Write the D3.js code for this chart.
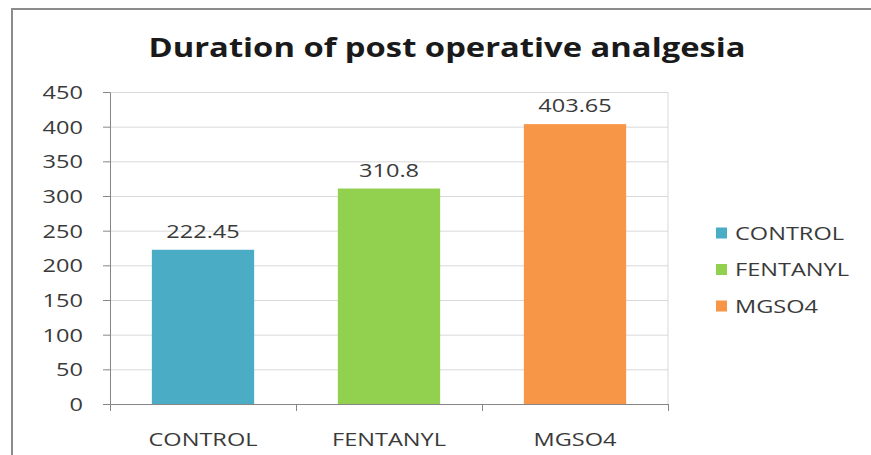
<!DOCTYPE html>
<html>
<head>
<meta charset="utf-8">
<script src="https://cdn.jsdelivr.net/npm/d3@7"></script>
<style>
  html, body { margin: 0; padding: 0; background: #fff; }
  svg { display: block; }
  text { font-family: "Open Sans", sans-serif; }
</style>
</head>
<body>
<svg id="chart" width="871" height="455"></svg>
<script>
// values
const categories = ["CONTROL", "FENTANYL", "MGSO4"];
const durations = [222.45, 310.8, 403.65];
const durationLabels = ["222.45", "310.8", "403.65"];
const barColors = ["#4bacc6", "#92d050", "#f79646"];
const yTicks = [0, 50, 100, 150, 200, 250, 300, 350, 400, 450];

const titleText = "Duration of post operative analgesia";

// the source picture is stretched sideways, text gets the same stretch
const stretch = 1.24;
const textColor = "#3a3a3a";

const svg = d3.select("#chart");
const margin = { left: 110, right: 668, top: 92, bottom: 404 };

const x = d3.scaleBand()
  .domain(categories)
  .range([margin.left, margin.right])
  .paddingInner(0.45)
  .paddingOuter(0.225);

const y = d3.scaleLinear()
  .domain([0, 450])
  .range([margin.bottom, margin.top]);

const color = d3.scaleOrdinal().domain(categories).range(barColors);

// outer frame (only top and left edges are in the crop)
svg.append("path")
  .attr("d", "M12,455 L12,9 L871,9")
  .attr("fill", "none")
  .attr("stroke", "#8c8c8c")
  .attr("stroke-width", 2);

// title
svg.append("text")
  .attr("transform", `translate(447,57) scale(1.26,1)`)
  .attr("text-anchor", "middle")
  .attr("font-size", 26)
  .attr("font-weight", 700)
  .attr("fill", "#1a1a1a")
  .text(titleText);

// gridlines
svg.append("g")
  .attr("transform", `translate(${margin.left},0)`)
  .call(d3.axisLeft(y).tickValues(yTicks).tickSize(-(margin.right - margin.left)).tickFormat(""))
  .call(g => g.select(".domain").remove())
  .call(g => g.selectAll("line").attr("stroke", "#d9d9d9"));

// right edge of plot area
svg.append("line")
  .attr("x1", margin.right).attr("x2", margin.right)
  .attr("y1", margin.top).attr("y2", margin.bottom)
  .attr("stroke", "#d9d9d9");

// bars
svg.append("g")
  .selectAll("rect")
  .data(categories)
  .join("rect")
  .attr("x", d => x(d))
  .attr("width", x.bandwidth())
  .attr("y", (d, i) => y(durations[i]))
  .attr("height", (d, i) => y(0) - y(durations[i]))
  .attr("fill", d => color(d));

// value labels
svg.append("g")
  .selectAll("text")
  .data(categories)
  .join("text")
  .attr("transform", (d, i) => `translate(${x(d) + x.bandwidth() / 2},${y(durations[i]) - 12}) scale(${stretch},1)`)
  .attr("text-anchor", "middle")
  .attr("font-size", 19)
  .attr("fill", textColor)
  .text((d, i) => durationLabels[i]);

// y axis
svg.append("g")
  .attr("transform", `translate(${margin.left},0)`)
  .call(d3.axisLeft(y).tickValues(yTicks).tickSizeInner(7).tickSizeOuter(0).tickPadding(0))
  .call(g => g.select(".domain").attr("stroke", "#868686"))
  .call(g => g.selectAll(".tick line").attr("stroke", "#868686"))
  .call(g => g.selectAll(".tick text")
    .attr("x", 0)
    .attr("dy", "0.35em")
    .attr("transform", `translate(-27,0) scale(${stretch},1)`)
    .attr("font-family", "Open Sans, sans-serif")
    .attr("font-size", 19)
    .attr("fill", textColor));

// x axis: tick marks sit on the category boundaries
const xEdges = d3.scaleLinear().domain([0, categories.length]).range([margin.left, margin.right]);
svg.append("g")
  .attr("transform", `translate(0,${margin.bottom})`)
  .call(d3.axisBottom(xEdges).ticks(categories.length).tickSizeInner(7).tickSizeOuter(0).tickFormat(""))
  .call(g => g.select(".domain").attr("stroke", "#868686"))
  .call(g => g.selectAll(".tick line").attr("stroke", "#868686"));

svg.append("g")
  .attr("transform", `translate(0,${margin.bottom})`)
  .call(d3.axisBottom(x).tickSize(0))
  .call(g => g.select(".domain").remove())
  .call(g => g.selectAll(".tick text")
    .attr("y", 0)
    .attr("dy", 0)
    .attr("transform", `translate(0,42) scale(${stretch},1)`)
    .attr("font-family", "Open Sans, sans-serif")
    .attr("font-size", 19)
    .attr("fill", textColor));

// legend
const legend = svg.append("g")
  .selectAll("g")
  .data(categories)
  .join("g")
  .attr("transform", (d, i) => `translate(716,${233 + i * 36.5})`);

legend.append("rect")
  .attr("x", 0).attr("y", -5.5)
  .attr("width", 11).attr("height", 11)
  .attr("fill", d => color(d));

legend.append("text")
  .attr("transform", `translate(19,0) scale(${stretch},1)`)
  .attr("dy", "0.35em")
  .attr("font-size", 19)
  .attr("fill", textColor)
  .text(d => d);
</script>
</body>
</html>
